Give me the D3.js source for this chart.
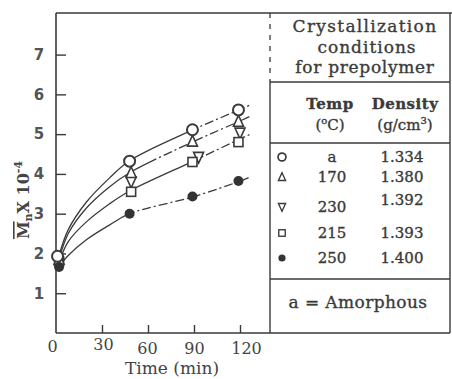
<!DOCTYPE html>
<html><head><meta charset="utf-8">
<script src="https://cdn.jsdelivr.net/npm/d3@7"></script>
<style>body{margin:0;background:#fff}svg{display:block}</style>
</head><body>
<svg id="c" width="452" height="379"></svg>
<script>
// ---- data ----
const xTicks = [0, 30, 60, 90, 120];
const yTicks = [1, 2, 3, 4, 5, 6, 7];
const seriesNames = ["amorphous", "170", "230", "215", "250"];
const tempLabels = ["a", "170", "230", "215", "250"];
const densityLabels = ["1.334", "1.380", "1.392", "1.393", "1.400"];
const symbols = ["circle", "triangle", "triangleDown", "square", "filled"];
// measured points (time min, Mn x 10^-4)
const ptsCircle = [[1, 1.93], [48, 4.32], [89, 5.11], [119, 5.61]];
const ptsTriangle = [[2, 1.85], [49, 4.03], [89, 4.82], [119, 5.32]];
const ptsTriDown = [[2, 1.73], [49, 3.8], [93, 4.42], [120, 5.03]];
const ptsSquare = [[2, 1.8], [49, 3.55], [89, 4.3], [119, 4.8]];
const ptsFilled = [[2, 1.66], [48, 3.0], [89, 3.43], [119, 3.82]];
// fitted curves
const curveT = [2, 8, 20, 35, 48, 90, 120, 127];
const curveCircle = [1.95, 2.6, 3.3, 3.9, 4.33, 5.12, 5.62, 5.74];
const curveTriangle = [1.85, 2.5, 3.15, 3.68, 4.03, 4.82, 5.33, 5.46];
const curveSquare = [1.78, 2.3, 2.8, 3.25, 3.57, 4.33, 4.88, 5.0];
const curveFilled = [1.68, 1.95, 2.35, 2.72, 3.0, 3.43, 3.82, 3.93];

// ---- layout/style ----
const ink = "#3a3a3a";
const svg = d3.select("#c");
const x = d3.scaleLinear().domain([0, 120]).range([56, 240]);
const y = d3.scaleLinear().domain([0, 7]).range([333, 54.6]);
const plotRight = 270, tableRight = 450, topY = 13, botY = 333;

// frame
svg.append("line").attr("x1", 56).attr("x2", 452).attr("y1", topY).attr("y2", topY).attr("stroke", ink).attr("stroke-width", 1.6);
svg.append("line").attr("x1", 56).attr("x2", tableRight).attr("y1", botY).attr("y2", botY).attr("stroke", ink).attr("stroke-width", 1.6);
svg.append("line").attr("x1", tableRight).attr("x2", tableRight).attr("y1", topY).attr("y2", botY).attr("stroke", ink).attr("stroke-width", 1.4);
svg.append("line").attr("x1", plotRight).attr("x2", plotRight).attr("y1", topY).attr("y2", 80).attr("stroke", ink).attr("stroke-width", 1.3).attr("stroke-dasharray", "5,6");
svg.append("line").attr("x1", plotRight).attr("x2", plotRight).attr("y1", 80).attr("y2", botY).attr("stroke", ink).attr("stroke-width", 1.4);
[82, 143, 279].forEach(h => svg.append("line").attr("x1", plotRight).attr("x2", tableRight).attr("y1", h).attr("y2", h).attr("stroke", ink).attr("stroke-width", 1.4));

// axes
const yAxis = svg.append("g").attr("transform", "translate(56,0)")
  .call(d3.axisRight(y).tickValues(yTicks).tickSize(10).tickFormat(d3.format("d")));
yAxis.select(".domain").attr("stroke", ink).attr("stroke-width", 1.6).attr("d", `M0,${topY}V${botY}`);
yAxis.selectAll(".tick line").attr("stroke", ink).attr("stroke-width", 1.4);
yAxis.selectAll(".tick text").attr("x", -17).attr("text-anchor", "middle")
  .attr("font-family", "DejaVu Sans").attr("font-size", 15).attr("font-weight", "bold").attr("fill", "#555");

const xLabelOffset = {0: [-4, 0], 30: [1, -2], 60: [-1, 2], 90: [0, 2], 120: [6, 2]};
const xAxis = svg.append("g").attr("transform", `translate(0,${botY})`)
  .call(d3.axisTop(x).tickValues(xTicks).tickSize(8).tickFormat(d3.format("d")));
xAxis.select(".domain").remove();
xAxis.selectAll(".tick line").attr("stroke", ink).attr("stroke-width", 1.4).filter(d => d === 0).remove();
xAxis.selectAll(".tick text").attr("y", 19).attr("dy", 0)
  .attr("font-family", "DejaVu Serif").attr("font-size", 16).attr("fill", "#444")
  .attr("dx", d => xLabelOffset[d][0]).attr("transform", d => `translate(0,${xLabelOffset[d][1]})`);

// axis titles
svg.append("text").attr("x", 172).attr("y", 374).attr("text-anchor", "middle")
  .attr("font-family", "DejaVu Serif").attr("font-size", 17).attr("fill", "#444").text("Time (min)");
const yl = svg.append("text").attr("transform", "translate(29,200) rotate(-90)").attr("text-anchor", "middle")
  .attr("font-family", "DejaVu Serif").attr("font-size", 16).attr("font-weight", "bold").attr("fill", "#444");
yl.append("tspan").attr("text-decoration", "overline").text("M");
yl.append("tspan").attr("font-size", 11).attr("dy", 3).text("n");
yl.append("tspan").attr("dy", -3).text("X 10");
yl.append("tspan").attr("font-size", 11).attr("dy", -7).text("-4");

// clip paths for solid / dash-dot parts
const defs = svg.append("defs");
function clip(id, x0, x1) {
  defs.append("clipPath").attr("id", id).append("rect").attr("x", x0).attr("y", 0).attr("width", x1 - x0).attr("height", 379);
}
const curves = [
  {vals: curveCircle, split: 90},
  {vals: curveTriangle, split: 62},
  {vals: curveSquare, split: 92},
  {vals: curveFilled, split: 50}
];
const line = d3.line().x(d => x(d[0])).y(d => y(d[1])).curve(d3.curveCatmullRom.alpha(0.5));
curves.forEach((c, i) => {
  const data = curveT.map((t, k) => [t, c.vals[k]]);
  clip("s" + i, 0, x(c.split));
  clip("d" + i, x(c.split), 452);
  svg.append("path").attr("d", line(data)).attr("fill", "none").attr("stroke", ink).attr("stroke-width", 1.3).attr("clip-path", `url(#s${i})`);
  svg.append("path").attr("d", line(data)).attr("fill", "none").attr("stroke", ink).attr("stroke-width", 1.3)
    .attr("stroke-dasharray", "9,3,2,3").attr("clip-path", `url(#d${i})`);
});

// markers
function marker(g, type, cx, cy, s) {
  if (type === "circle") g.append("circle").attr("cx", cx).attr("cy", cy).attr("r", 5.5 * s).attr("fill", "#fff").attr("stroke", ink).attr("stroke-width", 2 * Math.sqrt(s));
  else if (type === "filled") g.append("circle").attr("cx", cx).attr("cy", cy).attr("r", 5 * s).attr("fill", "#333");
  else if (type === "square") g.append("rect").attr("x", cx - 4.5 * s).attr("y", cy - 4.5 * s).attr("width", 9 * s).attr("height", 9 * s).attr("fill", "#fff").attr("stroke", ink).attr("stroke-width", 1.6 * Math.sqrt(s));
  else {
    const h = 6 * s, sign = type === "triangle" ? 1 : -1;
    g.append("path").attr("d", `M${cx},${cy - sign * h}L${cx + 5 * s},${cy + sign * h * 0.8}L${cx - 5 * s},${cy + sign * h * 0.8}Z`)
      .attr("fill", "#fff").attr("stroke", ink).attr("stroke-width", 1.6 * Math.sqrt(s));
  }
}
const pointSets = [ptsTriDown, ptsSquare, ptsTriangle, ptsCircle, ptsFilled];
const pointTypes = ["triangleDown", "square", "triangle", "circle", "filled"];
const mg = svg.append("g");
pointSets.forEach((ps, i) => ps.forEach(p => marker(mg, pointTypes[i], x(p[0]), y(p[1]), 1)));

// table text
const tf = "DejaVu Serif";
function txt(xx, yy, s, size, weight, ls) {
  return svg.append("text").attr("x", xx).attr("y", yy).attr("text-anchor", "middle").attr("font-family", tf)
    .attr("font-size", size).attr("font-weight", weight || "normal").attr("fill", "#3a3a3a")
    .attr("stroke", "#3a3a3a").attr("stroke-width", 0.35).attr("letter-spacing", ls || 0).text(s);
}
txt(365, 32, "Crystallization", 17, "normal", 1.3);
txt(367, 53, "conditions", 17, "normal", 1.0);
txt(365, 73, "for prepolymer", 17, "normal", 0.7);
txt(330, 109, "Temp", 15, "bold", 0.5);
txt(405, 109, "Density", 15, "bold", 0.5);
const dc = txt(330, 130, "", 15);
dc.append("tspan").text("(");
dc.append("tspan").attr("font-size", 10).attr("dy", -6).text("o");
dc.append("tspan").attr("dy", 6).text("C)");
const gc = txt(405, 130, "", 15);
gc.append("tspan").text("(g/cm");
gc.append("tspan").attr("font-size", 10).attr("dy", -6).text("3");
gc.append("tspan").attr("dy", 6).text(")");
const rowY = [162, 182, 212, 238, 263];
const densY = [162, 182, 205, 238, 263];
const lg = svg.append("g");
tempLabels.forEach((t, i) => {
  marker(lg, symbols[i], 282, rowY[i] - 5, 0.72);
  txt(332, rowY[i], t, 15, "normal");
  txt(402, densY[i], densityLabels[i], 15, "normal");
});
txt(358, 308, "a = Amorphous", 17, "normal", 0.4);
</script>
</body></html>
